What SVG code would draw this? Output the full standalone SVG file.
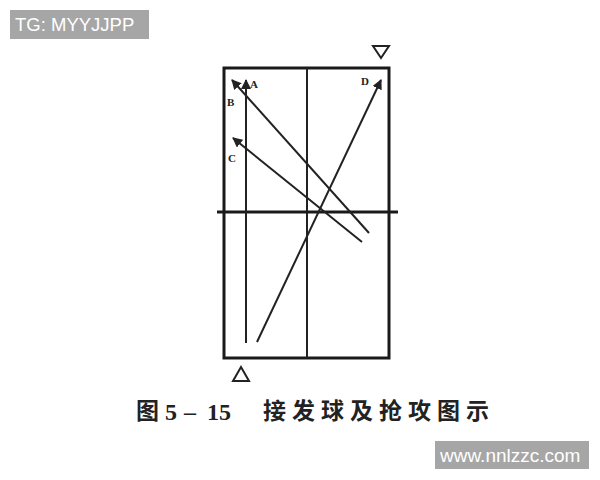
<svg xmlns="http://www.w3.org/2000/svg" width="600" height="480" viewBox="0 0 600 480">
<defs>
<style>
.ln{stroke:#222;stroke-width:2;fill:none}
.bd{stroke:#1a1a1a;stroke-width:3;fill:none}
.lbl{font-family:"Liberation Serif",serif;font-size:11px;font-weight:bold;fill:#222}
.wm{fill:#a6a6a6}
.wmt{font-family:"Liberation Sans",Arial,sans-serif;fill:#fff}
.cap{font-family:"Noto Sans CJK SC",sans-serif;font-weight:bold;fill:#222}
.num{font-family:"Liberation Serif",serif;font-weight:bold;fill:#222;font-size:24px}
</style>
<marker id="ah" viewBox="0 0 10 10" refX="9" refY="5" markerWidth="5" markerHeight="5" orient="auto-start-reverse">
<path d="M0,0 L10,5 L0,10 z" fill="#222"/>
</marker>
</defs>
<rect width="600" height="480" fill="#fff"/>
<g id="table">
<rect class="bd" x="224" y="68" width="165" height="290"/>
<line class="ln" x1="307" y1="68" x2="307" y2="358"/>
<line class="bd" x1="217" y1="212" x2="398" y2="212"/>
</g>
<g id="markers">
<polygon points="241,367 233,381 249,381" fill="none" stroke="#222" stroke-width="2"/>
<polygon points="373,46 389,46 381,58" fill="none" stroke="#222" stroke-width="2"/>
</g>
<g id="connectors">
<line class="ln" x1="246" y1="343" x2="246" y2="80" marker-end="url(#ah)"/>
<line class="ln" x1="369" y1="233" x2="232" y2="80" marker-end="url(#ah)"/>
<line class="ln" x1="362" y1="242" x2="233" y2="138" marker-end="url(#ah)"/>
<line class="ln" x1="257" y1="342" x2="381" y2="80" marker-end="url(#ah)"/>
</g>
<g id="labels">
<text class="lbl" x="250" y="88">A</text>
<text class="lbl" x="227" y="106">B</text>
<text class="lbl" x="228" y="162">C</text>
<text class="lbl" x="361" y="85">D</text>
</g>
<g id="caption">
<text class="cap" x="136" y="419" font-size="23">图</text>
<text class="num" x="165" y="420">5</text>
<text class="num" x="184" y="420">–</text>
<text class="num" x="207" y="420">15</text>
<text class="cap" x="263" y="419" font-size="23" letter-spacing="6">接发球及抢攻图示</text>
</g>
<g id="wm1">
<rect class="wm" x="10" y="10" width="139" height="29"/>
<text class="wmt" x="15" y="31" font-size="18.5">TG: MYYJJPP</text>
</g>
<g id="wm2">
<rect class="wm" x="435" y="441" width="154" height="28"/>
<text class="wmt" x="440" y="462" font-size="19">www.nnlzzc.com</text>
</g>
</svg>
